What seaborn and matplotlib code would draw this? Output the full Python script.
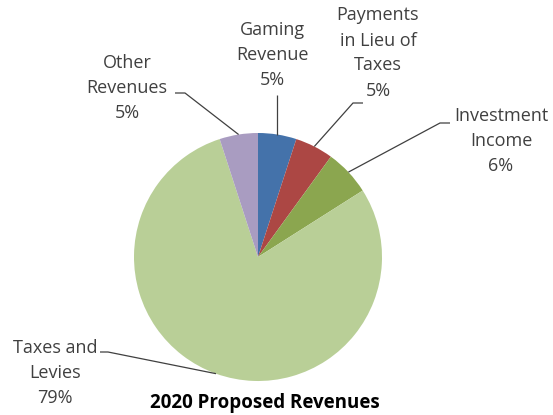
import numpy as np
import matplotlib
matplotlib.use("Agg")
import matplotlib.pyplot as plt
import seaborn as sns

# Revenue breakdown (share of total, %)
categories = ["Gaming\nRevenue", "Payments\nin Lieu of\nTaxes", "Investment\nIncome",
              "Taxes and\nLevies", "Other\nRevenues"]
shares = [5, 5, 6, 79, 5]
colors = ["#4472AA", "#AC4744", "#8BA64F", "#B9CF97", "#A99CC1"]
title = "2020 Proposed Revenues"

sns.set_theme(style="white")
plt.rcParams["font.family"] = ["Open Sans", "DejaVu Sans"]

W, H = 553, 415
fig = plt.figure(figsize=(W / 100, H / 100), dpi=100)
ax = fig.add_axes([0, 0, 1, 1])

cx, cy, r = 258, H - 257, 124
wedges, _ = ax.pie(shares, colors=colors, startangle=90, counterclock=False,
                   center=(cx, cy), radius=r, wedgeprops=dict(linewidth=0))
ax.set_xlim(0, W)
ax.set_ylim(0, H)
ax.set_aspect("equal")
ax.axis("off")

# label block centre, elbow point, end of horizontal tick (image px, y down)
label_pos = [(272, 55), (378, 53), (501, 141), (55, 373), (127, 88)]
elbows = [None, (353, 103), (440, 123), (108, 352), (185, 93)]
ticks = [None, (363, 103), (450, 123), (100, 352), (175, 93)]

for w, name, val, (lx, ly), el, tk in zip(wedges, categories, shares,
                                          label_pos, elbows, ticks):
    mid = np.deg2rad((w.theta1 + w.theta2) / 2)
    px, py = cx + r * np.cos(mid), cy + r * np.sin(mid)
    if el is None:
        xs, ys = [px, px], [py, H - 95]
    else:
        xs = [px, el[0], tk[0]]
        ys = [py, H - el[1], H - tk[1]]
    ax.plot(xs, ys, color="#404040", lw=0.9, solid_capstyle="butt")
    ax.text(lx, H - ly, f"{name}\n{val}%", ha="center", va="center",
            fontsize=13, color="#404040", linespacing=1.5)

ax.text(265, H - 403, title, ha="center", va="center", fontsize=13.5,
        fontweight="bold", color="black")

fig.savefig("out.png", dpi=100)
